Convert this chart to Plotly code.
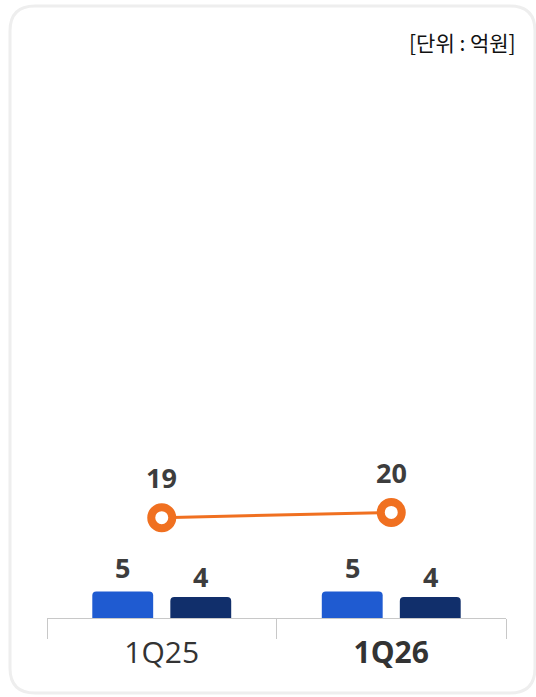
import plotly.graph_objects as go

categories = ["1Q25", "1Q26"]
bar_a = [5, 5]
bar_b = [4, 4]
line_vals = [19, 20]
unit_label = "[단위 : 억원]"

W, H = 536, 697
L, R, T, B = 47, 30, 70, 79
pw, ph = W - L - R, H - T - B


def px_x(x):
    return (x - L) / pw


def px_y(y):
    return (H - B - y) / ph


fig = go.Figure()
fig.add_bar(x=categories, y=bar_a, marker_color="#1f5bd1", marker_line_width=0)
fig.add_bar(x=categories, y=bar_b, marker_color="#112f6b", marker_line_width=0)
fig.add_scatter(
    x=categories, y=line_vals, mode="lines+markers",
    line=dict(color="#f07020", width=3),
    marker=dict(size=21, color="white", line=dict(color="#f07020", width=8)),
)

num_font = dict(family="Open Sans", size=27, color="#3d3d3d")
for c, a, b, v in zip(categories, bar_a, bar_b, line_vals):
    fig.add_annotation(x=c, y=a, text=f"<b>{a}</b>", showarrow=False, xshift=-39,
                       yanchor="middle", yshift=24, font=num_font)
    fig.add_annotation(x=c, y=b, text=f"<b>{b}</b>", showarrow=False, xshift=39,
                       yanchor="middle", yshift=20, font=num_font)
    fig.add_annotation(x=c, y=v, text=f"<b>{v}</b>", showarrow=False,
                       yanchor="middle", yshift=40, font=num_font)

fig.add_annotation(xref="paper", yref="paper", x=px_x(518), y=px_y(42), text=unit_label,
                   showarrow=False, xanchor="right", yanchor="middle",
                   font=dict(family="Noto Sans CJK KR", size=21, color="#111111"))

# card outline
x0, x1, y0, y1, r = 10, 535, 6, 693, 25
path = (f"M {px_x(x0 + r)},{px_y(y0)} L {px_x(x1 - r)},{px_y(y0)} "
        f"Q {px_x(x1)},{px_y(y0)} {px_x(x1)},{px_y(y0 + r)} L {px_x(x1)},{px_y(y1 - r)} "
        f"Q {px_x(x1)},{px_y(y1)} {px_x(x1 - r)},{px_y(y1)} L {px_x(x0 + r)},{px_y(y1)} "
        f"Q {px_x(x0)},{px_y(y1)} {px_x(x0)},{px_y(y1 - r)} L {px_x(x0)},{px_y(y0 + r)} "
        f"Q {px_x(x0)},{px_y(y0)} {px_x(x0 + r)},{px_y(y0)} Z")
fig.add_shape(type="path", xref="paper", yref="paper", path=path,
              line=dict(color="#eeeeee", width=3), layer="below")

ticktext = [categories[0], f"<b>{categories[1]}</b>"]
fig.update_layout(
    width=W, height=H, margin=dict(l=L, r=R, t=T, b=B),
    paper_bgcolor="white", plot_bgcolor="white",
    barmode="group", bargap=0.32, bargroupgap=0.22, barcornerradius=4,
    showlegend=False,
    xaxis=dict(type="category", range=[-0.5, 1.5], tickson="boundaries",
               ticks="outside", ticklen=20, tickcolor="#c8c8c8", tickwidth=1,
               showline=True, linecolor="#c8c8c8", linewidth=1, showgrid=False,
               tickvals=categories, ticktext=ticktext, ticklabelstandoff=8,
               tickfont=dict(family="Open Sans", size=30, color="#333333")),
    yaxis=dict(range=[0, 103.8], visible=False, showgrid=False, zeroline=False),
)

fig.write_html("out.html", config={"displayModeBar": False},
               post_script="document.body.style.margin='0px';")
